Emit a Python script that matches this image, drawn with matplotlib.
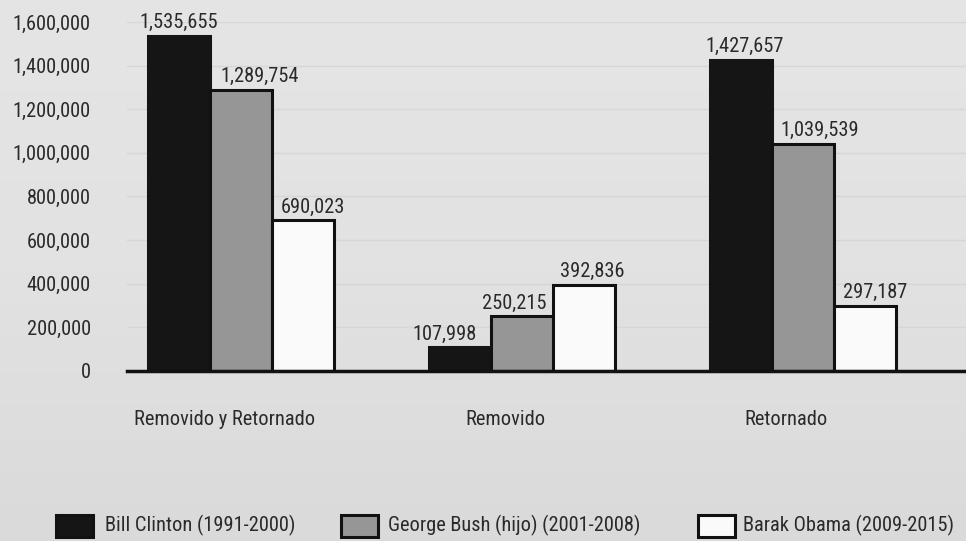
import matplotlib
matplotlib.use("Agg")
import matplotlib.pyplot as plt
from matplotlib.patches import Rectangle
from matplotlib.colors import LinearSegmentedColormap
import numpy as np

categories = ["Removido y Retornado", "Removido", "Retornado"]
series_names = ["Bill Clinton (1991-2000)", "George Bush (hijo) (2001-2008)", "Barak Obama (2009-2015)"]
clinton = [1535655, 107998, 1427657]
bush = [1289754, 250215, 1039539]
obama = [690023, 392836, 297187]
yticks = [0, 200000, 400000, 600000, 800000, 1000000, 1200000, 1400000, 1600000]

plt.rcParams['font.family'] = ['Liberation Sans Narrow', 'Roboto Condensed', 'Liberation Sans', 'DejaVu Sans']

W, H = 966, 541
fig = plt.figure(figsize=(W / 100, H / 100), dpi=100)
fig.patch.set_facecolor('#e3e3e3')
txt = '#2a2a2a'
fs = 14.7

# soft background gradient
bg_ax = fig.add_axes([0, 0, 1, 1], zorder=-10)
grad = np.linspace(0, 1, 256).reshape(-1, 1)
cmap = LinearSegmentedColormap.from_list('bg', ['#e5e5e5', '#e2e2e2', '#dadada'])
bg_ax.imshow(grad, aspect='auto', cmap=cmap, extent=[0, 1, 0, 1], origin='upper')
bg_ax.axis('off')

ax_left, ax_right = 127 / W, 1.0
ax_bottom, ax_top = 1 - 371 / H, 1 - 22 / H
ax = fig.add_axes([ax_left, ax_bottom, ax_right - ax_left, ax_top - ax_bottom])
ax.set_facecolor('none')

x = np.arange(len(categories))
spacing = 281.0
ax.set_xlim((127 - 241) / spacing, (966 - 241) / spacing)
ax.set_ylim(0, 1600000)

bw = 62 / spacing
colors = ['#151515', '#969696', '#fafafa']
edges = ['#151515', '#111111', '#111111']
series = [clinton, bush, obama]
# label horizontal nudges (pixels) per series, per category
label_dx_px = [[0, -15, 4], [19, -8, 17], [10, 8, 10]]
for i, (vals, c, e) in enumerate(zip(series, colors, edges)):
    xs = x + (i - 1) * bw
    ax.bar(xs, vals, width=bw, color=c, edgecolor=e, linewidth=2.2, zorder=3)
    for j, (xi, v) in enumerate(zip(xs, vals)):
        ax.text(xi + label_dx_px[i][j] / spacing, v + 18000, f"{v:,}",
                ha='center', va='bottom', fontsize=fs, color=txt, zorder=4)

ax.set_yticks(yticks)
ax.set_yticklabels([f"{v:,}" for v in yticks], fontsize=fs, color=txt)
ax.tick_params(axis='y', length=0, pad=26)
ax.set_xticks(x - 0.06)
ax.set_xticklabels(categories, fontsize=fs, color=txt)
ax.tick_params(axis='x', length=0, pad=28)

ax.grid(axis='y', color='#d6d6d6', linewidth=1.0, zorder=0)
for s in ['top', 'right', 'left']:
    ax.spines[s].set_visible(False)
ax.spines['bottom'].set_color('#111111')
ax.spines['bottom'].set_linewidth(2.5)
ax.spines['bottom'].set_zorder(5)

# legend
leg_items = [(56, 105, colors[0]), (341, 388, colors[1]), (698, 743, colors[2])]
for (px, tx, c), name in zip(leg_items, series_names):
    fig.patches.append(Rectangle((px / W, 1 - 537 / H), 37 / W, 22 / H,
                                 transform=fig.transFigure, facecolor=c,
                                 edgecolor='#111111', linewidth=2.2))
    fig.text(tx / W, 1 - 525 / H, name, ha='left', va='center',
             fontsize=fs, color=txt)

fig.savefig("out.png", dpi=100, facecolor=fig.get_facecolor())
